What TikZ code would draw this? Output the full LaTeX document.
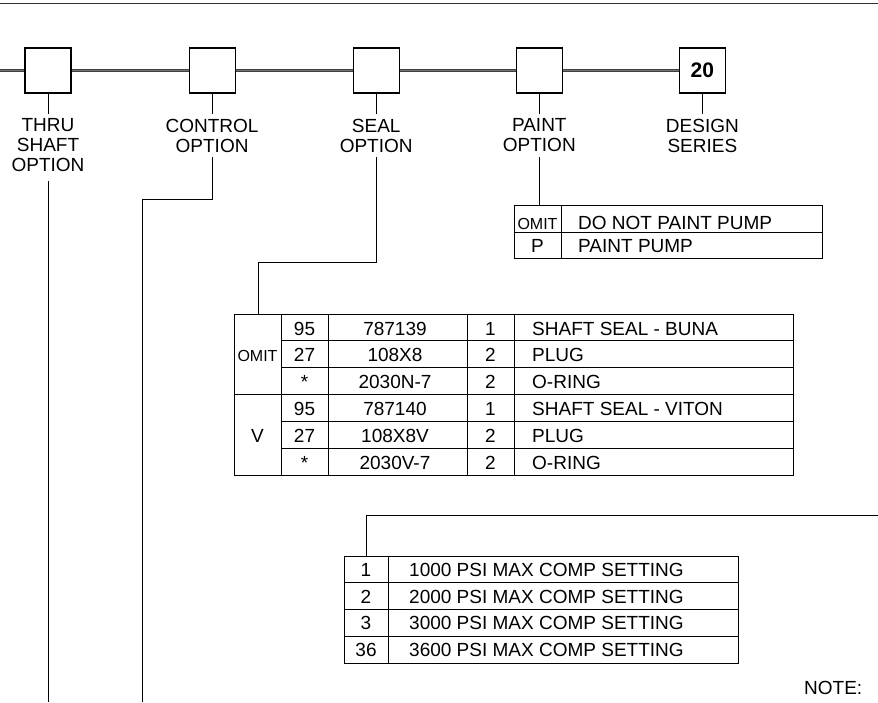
\documentclass[tikz,border=0pt]{standalone}
\usepackage{fontspec}
\setmainfont{Liberation Sans}
\usetikzlibrary{positioning}

\tikzset{
  optbox/.style={draw, fill=white, line width=1.1pt, minimum width=46pt, minimum height=45pt, inner sep=0pt},
  lbl/.style={align=center, font=\fontsize{19}{20}\selectfont, inner sep=0pt},
  cell/.style={font=\fontsize{19}{20}\selectfont, inner sep=0pt, anchor=base},
  smallcell/.style={font=\fontsize{16}{16}\selectfont, inner sep=0pt, anchor=base},
  tab/.style={draw, line width=0.9pt, inner sep=0pt, anchor=north west},
  conn/.style={line width=0.9pt},
  bus/.style={draw=black!75, double=black!55, double distance=1.6pt, line width=0.9pt}
}

\begin{document}
\begin{tikzpicture}[x=1pt,y=-1pt]
\useasboundingbox (0,0) rectangle (878,702);
% top rule
\draw[line width=1.5pt, black!80] (0,3.5) -- (878,3.5);

% option boxes
\node[optbox] (thru) at (48,70.5) {};
\node[optbox, right=117pt of thru] (ctrl) {};
\node[optbox, right=117pt of ctrl] (seal) {};
\node[optbox, right=116pt of seal] (paint) {};
\node[optbox, right=116pt of paint, font=\fontsize{21}{21}\selectfont\bfseries] (design) {20};

% bus
\coordinate (busstart) at (0,70.5);
\draw[bus] (busstart) -- (thru);
\draw[bus] (thru) -- (ctrl);
\draw[bus] (ctrl) -- (seal);
\draw[bus] (seal) -- (paint);
\draw[bus] (paint) -- (design);

% labels
\node[lbl, below=25pt of thru] (thrulbl) {THRU\\SHAFT\\OPTION};
\node[lbl, below=25pt of ctrl] (ctrllbl) {CONTROL\\OPTION};
\node[lbl, below=25pt of seal] (seallbl) {SEAL\\OPTION};
\node[lbl, below=25pt of paint] (paintlbl) {PAINT\\OPTION};
\node[lbl, below=25pt of design] (designlbl) {DESIGN\\SERIES};

\draw[conn] (thru.south) -- ([yshift=5pt]thrulbl.north);
\draw[conn] (ctrl.south) -- ([yshift=5pt]ctrllbl.north);
\draw[conn] (seal.south) -- ([yshift=5pt]seallbl.north);
\draw[conn] (paint.south) -- ([yshift=5pt]paintlbl.north);
\draw[conn] (design.south) -- ([yshift=5pt]designlbl.north);

% tables
\node[tab, minimum width=308pt, minimum height=53pt] (painttab) at (514,205) {};
\node[tab, minimum width=559pt, minimum height=161pt] (sealtab) at (234,314) {};
\node[tab, minimum width=394pt, minimum height=107pt] (psitab) at (344,556) {};

% connectors
\coordinate (thruend) at (48,702);
\coordinate (ctrlend) at (142,702);
\coordinate (ctrlbend) at (142,199);
\coordinate (sealbend) at (258,262);
\coordinate (psifeed) at (878,515);
\draw[conn] ([yshift=-9pt]thrulbl.south) -- (thruend);
\draw[conn] ([yshift=-5pt]ctrllbl.south) |- (ctrlbend) -- (ctrlend);
\draw[conn] ([yshift=-5pt]seallbl.south) |- (sealbend) -- (sealbend |- sealtab.north);
\draw[conn] ([yshift=-5pt]paintlbl.south) -- (paintlbl.south |- painttab.north);
\draw[conn] (psifeed) -| ([xshift=22pt]psitab.north west);

% paint table
\draw[conn] (514,232) -- (822,232);
\draw[conn] (561,205) -- (561,258);
\node[smallcell] (pomit) at (537.5,229.5) {OMIT};
\node[cell, anchor=base west] (pomitd) at (578,229.5) {DO NOT PAINT PUMP};
\node[cell] (pp) at (537.5,252.5) {P};
\node[cell, anchor=base west] (ppd) at (578,252.5) {PAINT PUMP};

% seal table
\draw[conn] (281,340.8) -- (793,340.8);
\draw[conn] (281,367.7) -- (793,367.7);
\draw[conn] (234,394.5) -- (793,394.5);
\draw[conn] (281,421.3) -- (793,421.3);
\draw[conn] (281,448.2) -- (793,448.2);
\draw[conn] (281,314) -- (281,475);
\draw[conn] (328,314) -- (328,475);
\draw[conn] (467,314) -- (467,475);
\draw[conn] (514,314) -- (514,475);
\node[smallcell] (somit) at (257.5,361) {OMIT};
\node[cell] (sv) at (257.5,442.3) {V};
\node[cell] (s1a) at (304.5,335) {95};
\node[cell] (s1b) at (395,335) {787139};
\node[cell] (s1c) at (490.5,335) {1};
\node[cell, anchor=base west] (s1d) at (532,335) {SHAFT SEAL - BUNA};
\node[cell] (s2a) at (304.5,361.8) {27};
\node[cell] (s2b) at (395,361.8) {108X8};
\node[cell] (s2c) at (490.5,361.8) {2};
\node[cell, anchor=base west] (s2d) at (532,361.8) {PLUG};
\node[cell] (s3a) at (304.5,388.7) {*};
\node[cell] (s3b) at (395,388.7) {2030N-7};
\node[cell] (s3c) at (490.5,388.7) {2};
\node[cell, anchor=base west] (s3d) at (532,388.7) {O-RING};
\node[cell] (s4a) at (304.5,415.5) {95};
\node[cell] (s4b) at (395,415.5) {787140};
\node[cell] (s4c) at (490.5,415.5) {1};
\node[cell, anchor=base west] (s4d) at (532,415.5) {SHAFT SEAL - VITON};
\node[cell] (s5a) at (304.5,442.3) {27};
\node[cell] (s5b) at (395,442.3) {108X8V};
\node[cell] (s5c) at (490.5,442.3) {2};
\node[cell, anchor=base west] (s5d) at (532,442.3) {PLUG};
\node[cell] (s6a) at (304.5,469.2) {*};
\node[cell] (s6b) at (395,469.2) {2030V-7};
\node[cell] (s6c) at (490.5,469.2) {2};
\node[cell, anchor=base west] (s6d) at (532,469.2) {O-RING};

% psi table
\draw[conn] (344,582.7) -- (738,582.7);
\draw[conn] (344,609.3) -- (738,609.3);
\draw[conn] (344,636) -- (738,636);
\draw[conn] (388,556) -- (388,662.7);
\node[cell] (p1a) at (366,576.5) {1};
\node[cell, anchor=base west] (p1b) at (409,576.5) {1000 PSI MAX COMP SETTING};
\node[cell] (p2a) at (366,603.2) {2};
\node[cell, anchor=base west] (p2b) at (409,603.2) {2000 PSI MAX COMP SETTING};
\node[cell] (p3a) at (366,629.8) {3};
\node[cell, anchor=base west] (p3b) at (409,629.8) {3000 PSI MAX COMP SETTING};
\node[cell] (p4a) at (366,656.5) {36};
\node[cell, anchor=base west] (p4b) at (409,656.5) {3600 PSI MAX COMP SETTING};

% note
\node[cell, anchor=base west] (note) at (804,694) {NOTE:};
\end{tikzpicture}
\end{document}
